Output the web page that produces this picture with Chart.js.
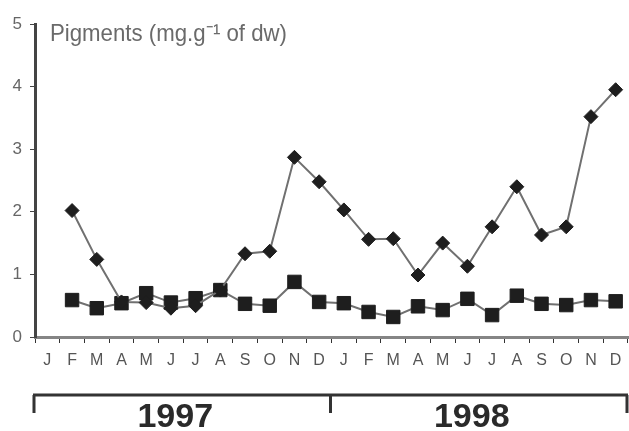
<!DOCTYPE html>
<html>
<head>
<meta charset="utf-8">
<script src="https://cdn.jsdelivr.net/npm/chart.js@4"></script>
<style>
    html, body { margin: 0; padding: 0; background: #fff; }
    #wrap { width: 629px; height: 431px; }
</style>
</head>
<body>
<div id="wrap"><canvas id="chart" width="629" height="431"></canvas></div>
<script>
// monthly categories, two years
const months = ['J','F','M','A','M','J','J','A','S','O','N','D',
                'J','F','M','A','M','J','J','A','S','O','N','D'];
const years = ['1997', '1998'];

// diamonds (upper series)
const diamondValues = [null, 2.02, 1.24, 0.56, 0.55, 0.46, 0.5, 0.75, 1.33, 1.37, 2.87, 2.48,
                       2.03, 1.56, 1.57, 0.99, 1.5, 1.13, 1.76, 2.4, 1.63, 1.76, 3.52, 3.95];
// squares (lower series)
const squareValues = [null, 0.59, 0.46, 0.54, 0.7, 0.55, 0.62, 0.75, 0.53, 0.5, 0.88, 0.56,
                      0.54, 0.4, 0.32, 0.49, 0.43, 0.61, 0.35, 0.66, 0.53, 0.51, 0.59, 0.57];

const yTicks = [0, 1, 2, 3, 4, 5];
const yTitle = 'Pigments (mg.g\u207B\u00B9 of dw)';

// title inside the plot + year brackets under the month axis
const decorations = {
    id: 'decorations',
    afterDraw(chart) {
        const { ctx, chartArea, scales: { x } } = chart;
        ctx.save();

        ctx.fillStyle = '#6a6a6a';
        ctx.font = '24px "Liberation Sans", Arial, sans-serif';
        ctx.textBaseline = 'alphabetic';
        ctx.fillText(yTitle, chartArea.left + 15, chartArea.top + 17, 237);

        const per = months.length / years.length;
        const w = (x.right - x.left) / months.length;
        const lineY = 395;
        ctx.strokeStyle = '#333';
        ctx.lineWidth = 3;
        ctx.beginPath();
        ctx.moveTo(x.left - 2, lineY);
        ctx.lineTo(x.right, lineY);
        for (let i = 0; i <= years.length; i++) {
            const px = Math.min(x.left - 1 + i * per * w, x.right - 1);
            ctx.moveTo(px, lineY);
            ctx.lineTo(px, lineY + 18);
        }
        ctx.stroke();

        ctx.fillStyle = '#2a2a2a';
        ctx.font = 'bold 34px "Liberation Sans", Arial, sans-serif';
        ctx.textAlign = 'center';
        ctx.textBaseline = 'middle';
        years.forEach((yr, i) => {
            const cx = x.left + (i + 0.5) * per * w - 8;
            ctx.fillText(yr, cx, 418);
        });
        ctx.restore();
    }
};

new Chart(document.getElementById('chart'), {
    type: 'line',
    data: {
        labels: months,
        datasets: [
            {
                data: diamondValues,
                borderColor: '#707070',
                borderWidth: 2,
                pointStyle: 'rectRot',
                pointRadius: 7,
                pointBackgroundColor: '#1e1e1e',
                pointBorderColor: '#1e1e1e',
                pointBorderWidth: 1,
                tension: 0
            },
            {
                data: squareValues,
                borderColor: '#707070',
                borderWidth: 2,
                pointStyle: 'rect',
                pointRadius: 9.5,
                pointBackgroundColor: '#1e1e1e',
                pointBorderColor: '#1e1e1e',
                pointBorderWidth: 1,
                tension: 0
            }
        ]
    },
    options: {
        responsive: false,
        animation: false,
        layout: { autoPadding: false, padding: { top: 24, right: 1, bottom: 60, left: 0 } },
        plugins: {
            legend: { display: false },
            tooltip: { enabled: false }
        },
        scales: {
            x: {
                type: 'category',
                offset: true,
                grid: { offset: true, drawOnChartArea: false, drawTicks: true, tickLength: 6, color: '#333', lineWidth: 1 },
                border: { color: '#858585', width: 3 },
                ticks: {
                    color: '#555',
                    font: { family: '"Liberation Sans", Arial, sans-serif', size: 16 },
                    padding: 8,
                    maxRotation: 0,
                    autoSkip: false
                },
                afterFit: s => {
                    s.height = 34;
                    s.paddingLeft = 0;
                    s.paddingRight = 0;
                }
            },
            y: {
                min: 0,
                max: 5,
                afterBuildTicks: s => { s.ticks = yTicks.map(v => ({ value: v })); },
                grid: { drawOnChartArea: false, tickLength: 5, color: '#444' },
                border: { color: '#444', width: 3 },
                ticks: {
                    color: '#666',
                    font: { family: '"Liberation Sans", Arial, sans-serif', size: 17 },
                    padding: 8
                },
                afterFit: s => {
                    s.width = 35;
                    s.paddingTop = 0;
                    s.paddingBottom = 0;
                }
            }
        }
    },
    plugins: [decorations]
});
</script>
</body>
</html>
